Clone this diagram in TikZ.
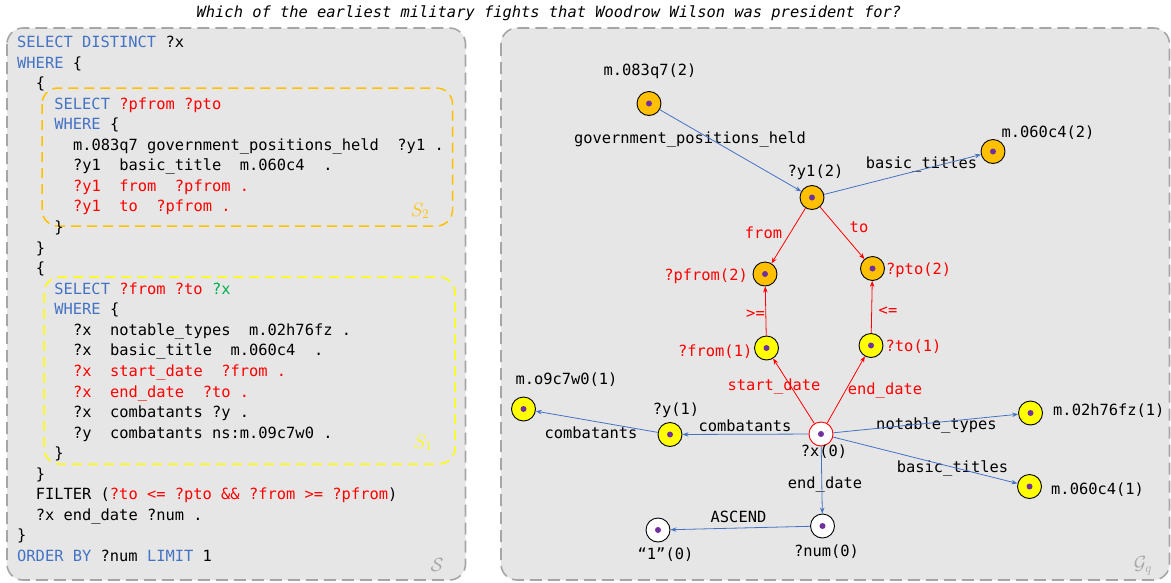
\documentclass[tikz,border=0pt]{standalone}
\usepackage{fontspec}
\usepackage{fix-cm}
\setmonofont{DejaVu Sans Mono}
\usetikzlibrary{arrows.meta}

\definecolor{kwblue}{HTML}{4472C4}
\definecolor{qred}{HTML}{FF0000}
\definecolor{qgreen}{HTML}{00B050}
\definecolor{panelfill}{HTML}{E7E6E6}
\definecolor{panelline}{HTML}{A6A6A6}
\definecolor{subtwo}{HTML}{FFC000}
\definecolor{subone}{HTML}{FFFF00}
\definecolor{dotpurple}{HTML}{7030A0}
\definecolor{tagray}{HTML}{A6A6A6}

\newcommand\codefont{\ttfamily\fontsize{15.4}{18}\selectfont}
\newcommand\kw[1]{\textcolor{kwblue}{#1}}
\newcommand\rd[1]{\textcolor{qred}{#1}}

\tikzset{
  panel/.style={draw=panelline, fill=panelfill, line width=1.6pt,
    dash pattern=on 12pt off 6pt, rounded corners=16pt},
  subq/.style={line width=1.5pt, dash pattern=on 10pt off 6pt, rounded corners=16pt},
  code/.style={font=\codefont, inner sep=0pt, anchor=base west},
  lbl/.style={font=\codefont, inner sep=0pt},
  tag/.style={inner sep=0pt, font=\fontsize{19}{21}\selectfont},
  vtx/.style={circle, draw=black, line width=0.9pt, minimum size=24pt, inner sep=0pt,
    path picture={\fill[dotpurple] (path picture bounding box.center) circle (3pt);}},
  vtwo/.style={vtx, fill=subtwo},
  vone/.style={vtx, fill=subone},
  vzero/.style={vtx, fill=white},
  vroot/.style={vtx, fill=white, draw=qred},
  eblue/.style={draw=kwblue, line width=0.8pt, -{Stealth[length=6pt,width=4.5pt]}},
  ered/.style={draw=qred, line width=0.8pt, -{Stealth[length=6pt,width=4.5pt]}},
}

\begin{document}
\begin{tikzpicture}[x=1pt,y=-1pt]
\useasboundingbox (0,0) rectangle (1171,582);

% question
\node[lbl] (title) at (549,13) {\itshape Which of the earliest military fights that Woodrow Wilson was president for?};

% panels
\draw[panel] (7,28) rectangle (465.5,580);
\draw[panel] (501,28) rectangle (1169.5,580);

% sub-query frames
\draw[subq, draw=subtwo] (42,88) rectangle (452.5,226);
\draw[subq, draw=subone] (44,277) rectangle (455,464);

% SPARQL query, one node per line
\node[code] (c0)  at (17,47.5)    {\kw{SELECT DISTINCT} ?x};
\node[code] (c1)  at (17,68.06)   {\kw{WHERE} \{};
\node[code] (c2)  at (35.6,88.62) {\{};
\node[code] (c3)  at (54.2,109.18) {\kw{SELECT} \rd{?pfrom ?pto}};
\node[code] (c4)  at (54.2,129.74) {\kw{WHERE} \{};
\node[code] (c5)  at (72.8,150.3)  {m.083q7 government\_positions\_held~~?y1 .};
\node[code] (c6)  at (72.8,170.86) {?y1~~basic\_title~~m.060c4~~.};
\node[code] (c7)  at (72.8,191.42) {\rd{?y1~~from~~?pfrom .}};
\node[code] (c8)  at (72.8,211.98) {\rd{?y1~~to~~?pfrom .}};
\node[code] (c9)  at (54.2,232.54) {\}};
\node[code] (c10) at (35.6,253.1)  {\}};
\node[code] (c11) at (35.6,273.66) {\{};
\node[code] (c12) at (54.2,294.22) {\kw{SELECT} \rd{?from ?to} \textcolor{qgreen}{?x}};
\node[code] (c13) at (54.2,314.78) {\kw{WHERE} \{};
\node[code] (c14) at (72.8,335.34) {?x~~notable\_types~~m.02h76fz .};
\node[code] (c15) at (72.8,355.9)  {?x~~basic\_title~~m.060c4~~.};
\node[code] (c16) at (72.8,376.46) {\rd{?x~~start\_date~~?from .}};
\node[code] (c17) at (72.8,397.02) {\rd{?x~~end\_date~~?to .}};
\node[code] (c18) at (72.8,417.58) {?x~~combatants ?y .};
\node[code] (c19) at (72.8,438.14) {?y~~combatants ns:m.09c7w0 .};
\node[code] (c20) at (54.2,458.7)  {\}};
\node[code] (c21) at (35.6,479.26) {\}};
\node[code] (c22) at (35.6,499.82) {FILTER (\rd{?to <= ?pto \&\& ?from >= ?pfrom})};
\node[code] (c23) at (35.6,520.38) {?x end\_date ?num .};
\node[code] (c24) at (17,540.94)   {\}};
\node[code] (c25) at (17,561.5)    {\kw{ORDER BY} ?num \kw{LIMIT} 1};

% frame tags
\node[tag, text=subtwo] (t2) at (420,211) {$S_2$};
\node[tag, text=subone] (t1) at (423,443) {$S_1$};
\node[tag, text=tagray] (ts) at (437,565) {$\mathcal{S}$};
\node[tag, text=tagray] (tg) at (1143,566) {$\mathcal{G}_q$};

% query graph vertices
\node[vtwo]  (m083)  at (649,103.5) {};
\node[vtwo]  (y1)    at (812,197.5) {};
\node[vtwo]  (m060b) at (993,151.5) {};
\node[vtwo]  (pfrom) at (765,274) {};
\node[vtwo]  (pto)   at (872.5,268.5) {};
\node[vone]  (from)  at (766.5,348) {};
\node[vone]  (to)    at (871,345.5) {};
\node[vroot] (x)     at (821,434) {};
\node[vone]  (y)     at (670,434.5) {};
\node[vone]  (m09)   at (523.5,409) {};
\node[vone]  (m02)   at (1030.5,413) {};
\node[vone]  (m060a) at (1029.5,486.5) {};
\node[vzero] (num)   at (822.5,526) {};
\node[vzero] (one)   at (658,530) {};

% vertex names
\node[lbl] (l-m083) at (650,71.5) {m.083q7(2)};
\node[lbl] (l-y1) at (815.5,172) {?y1(2)};
\node[lbl] (l-m060b) at (1048,133) {m.060c4(2)};
\node[lbl, text=qred, anchor=east] (l-pfrom) at (748,276) {?pfrom(2)};
\node[lbl, text=qred, anchor=west] (l-pto) at (886,270) {?pto(2)};
\node[lbl, text=qred, anchor=east] (l-from) at (752.5,352) {?from(1)};
\node[lbl, text=qred, anchor=west] (l-to) at (885.5,347) {?to(1)};
\node[lbl] (l-x) at (824,452) {?x(0)};
\node[lbl] (l-y) at (676,410) {?y(1)};
\node[lbl] (l-m09) at (566.5,380) {m.o9c7w0(1)};
\node[lbl, anchor=west] (l-m02) at (1053,411) {m.02h76fz(1)};
\node[lbl, anchor=west] (l-m060a) at (1051,490) {m.060c4(1)};
\node[lbl] (l-num) at (826.5,552) {?num(0)};
\node[lbl] (l-one) at (665.5,555) {“1”(0)};

% relation names
\node[lbl] (r-gph) at (690,139.5) {government\_positions\_held};
\node[lbl] (r-bt2) at (921.5,164) {basic\_titles};
\node[lbl, text=qred] (r-from) at (763.5,233) {from};
\node[lbl, text=qred] (r-to) at (859,227) {to};
\node[lbl, text=qred] (r-ge) at (755.5,314) {>=};
\node[lbl, text=qred] (r-le) at (888,311) {<=};
\node[lbl, text=qred] (r-sd) at (774,386) {start\_date};
\node[lbl, text=qred] (r-ed) at (885,390) {end\_date};
\node[lbl] (r-cb1) at (745,425.5) {combatants};
\node[lbl] (r-cb2) at (591,433) {combatants};
\node[lbl] (r-nt) at (936.5,425.5) {notable\_types};
\node[lbl] (r-bt1) at (952.5,468.5) {basic\_titles};
\node[lbl] (r-end) at (825,484.5) {end\_date};
\node[lbl] (r-asc) at (738.5,516.5) {ASCEND};

% query graph edges
\draw[eblue] (m083) -- (y1);
\draw[eblue] (y1) -- (m060b);
\draw[ered] (y1) -- (pfrom);
\draw[ered] (y1) -- (pto);
\draw[ered] (from) -- (pfrom);
\draw[ered] (to) -- (pto);
\draw[ered] (x) -- (from);
\draw[ered] (x) -- (to);
\draw[eblue] (x) -- (y);
\draw[eblue] (y) -- (m09);
\draw[eblue] (x) -- (m02);
\draw[eblue] (x) -- (m060a);
\draw[eblue] (x) -- (num);
\draw[eblue] (num) -- (one);
\end{tikzpicture}
\end{document}
